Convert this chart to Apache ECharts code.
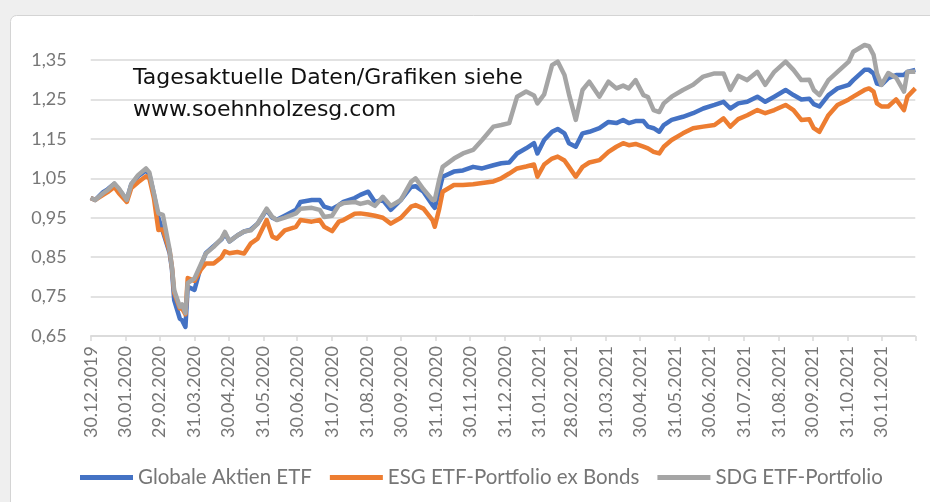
<!DOCTYPE html>
<html>
<head>
<meta charset="utf-8">
<script src="https://cdn.jsdelivr.net/npm/echarts@6/dist/echarts.min.js"></script>
<style>
html, body { margin: 0; padding: 0; background: #efefef; }
#main { width: 930px; height: 502px; }
</style>
</head>
<body>
<div id="main"></div>
<script>
var dates = ['2019-12-30','2020-01-03','2020-01-10','2020-01-14','2020-01-20','2020-01-24','2020-01-31','2020-02-04','2020-02-10','2020-02-17',
    '2020-02-20','2020-02-24','2020-02-28','2020-03-03','2020-03-09','2020-03-11','2020-03-13','2020-03-18','2020-03-20','2020-03-23',
    '2020-03-25','2020-03-31','2020-04-06','2020-04-10','2020-04-17','2020-04-24','2020-04-27','2020-05-01','2020-05-08','2020-05-14',
    '2020-05-20','2020-05-26','2020-06-03','2020-06-08','2020-06-12','2020-06-19','2020-06-29','2020-07-03','2020-07-13','2020-07-20',
    '2020-07-24','2020-07-31','2020-08-06','2020-08-10','2020-08-20','2020-08-25','2020-09-01','2020-09-07','2020-09-14','2020-09-21',
    '2020-09-30','2020-10-09','2020-10-13','2020-10-20','2020-10-28','2020-10-30','2020-11-03','2020-11-06','2020-11-16','2020-11-24',
    '2020-12-03','2020-12-11','2020-12-21','2020-12-28','2021-01-04','2021-01-11','2021-01-19','2021-01-26','2021-01-29','2021-02-04',
    '2021-02-11','2021-02-16','2021-02-22','2021-02-26','2021-03-04','2021-03-10','2021-03-16','2021-03-25','2021-04-02','2021-04-09',
    '2021-04-15','2021-04-20','2021-04-26','2021-05-03','2021-05-07','2021-05-12','2021-05-17','2021-05-21','2021-05-28','2021-06-07',
    '2021-06-16','2021-06-25','2021-07-05','2021-07-13','2021-07-19','2021-07-26','2021-08-03','2021-08-12','2021-08-19','2021-08-27',
    '2021-09-06','2021-09-13','2021-09-20','2021-09-27','2021-10-01','2021-10-06','2021-10-14','2021-10-22','2021-11-01','2021-11-05',
    '2021-11-15','2021-11-19','2021-11-23','2021-11-26','2021-11-30','2021-12-06','2021-12-13','2021-12-20','2021-12-23','2021-12-30'];

// Globale Aktien ETF
var globale = [1.000,0.995,1.015,1.022,1.036,1.022,0.995,1.035,1.055,1.070,
    1.060,1.010,0.950,0.915,0.860,0.820,0.741,0.694,0.690,0.673,
    0.775,0.767,0.830,0.860,0.878,0.895,0.910,0.890,0.905,0.915,
    0.920,0.935,0.970,0.950,0.945,0.955,0.970,0.990,0.995,0.995,
    0.978,0.972,0.982,0.990,1.000,1.008,1.016,0.990,0.995,0.970,
    0.995,1.028,1.030,1.016,0.982,0.975,1.020,1.054,1.067,1.070,
    1.079,1.075,1.083,1.088,1.090,1.113,1.126,1.139,1.113,1.147,
    1.168,1.175,1.164,1.139,1.130,1.164,1.168,1.177,1.193,1.190,
    1.198,1.190,1.195,1.195,1.181,1.177,1.168,1.185,1.198,1.206,
    1.215,1.227,1.236,1.244,1.227,1.240,1.244,1.257,1.244,1.257,
    1.274,1.261,1.250,1.252,1.238,1.232,1.261,1.278,1.287,1.299,
    1.325,1.325,1.316,1.290,1.287,1.304,1.312,1.312,1.320,1.325];

// ESG ETF-Portfolio ex Bonds
var esg = [1.000,0.995,1.008,1.015,1.028,1.012,0.990,1.025,1.040,1.055,
    1.050,1.000,0.919,0.920,0.865,0.825,0.760,0.720,0.720,0.705,
    0.797,0.790,0.820,0.834,0.834,0.850,0.865,0.860,0.863,0.859,
    0.885,0.897,0.944,0.902,0.897,0.918,0.927,0.944,0.940,0.944,
    0.927,0.916,0.940,0.944,0.960,0.961,0.958,0.955,0.950,0.935,
    0.950,0.978,0.982,0.973,0.944,0.927,0.973,1.016,1.033,1.033,
    1.035,1.038,1.042,1.050,1.062,1.075,1.080,1.085,1.054,1.085,
    1.100,1.105,1.095,1.079,1.054,1.079,1.090,1.096,1.117,1.130,
    1.139,1.134,1.137,1.130,1.126,1.117,1.113,1.130,1.147,1.164,
    1.177,1.181,1.185,1.202,1.181,1.200,1.210,1.223,1.215,1.223,
    1.236,1.223,1.198,1.200,1.177,1.168,1.210,1.236,1.250,1.257,
    1.274,1.278,1.270,1.240,1.232,1.232,1.250,1.223,1.257,1.278];

// SDG ETF-Portfolio
var sdg = [1.000,0.995,1.012,1.020,1.037,1.024,0.995,1.035,1.058,1.075,
    1.065,1.012,0.961,0.957,0.868,0.825,0.766,0.724,0.730,0.708,
    0.784,0.796,0.834,0.859,0.876,0.897,0.914,0.890,0.905,0.915,
    0.918,0.935,0.973,0.952,0.944,0.950,0.961,0.973,0.975,0.970,
    0.952,0.955,0.982,0.987,0.990,0.985,0.990,0.980,1.003,0.980,
    0.995,1.041,1.050,1.022,0.995,0.995,1.047,1.079,1.100,1.113,
    1.122,1.147,1.181,1.185,1.190,1.257,1.270,1.260,1.240,1.263,
    1.337,1.346,1.312,1.263,1.198,1.274,1.295,1.257,1.295,1.278,
    1.285,1.278,1.299,1.261,1.256,1.223,1.218,1.240,1.257,1.274,
    1.287,1.308,1.316,1.316,1.274,1.310,1.299,1.320,1.287,1.320,
    1.346,1.325,1.299,1.300,1.274,1.261,1.299,1.320,1.346,1.371,
    1.388,1.385,1.363,1.316,1.287,1.317,1.305,1.270,1.320,1.320];

var tickDates = ['2019-12-30','2020-01-30','2020-02-29','2020-03-31','2020-04-30','2020-05-31','2020-06-30','2020-07-31',
    '2020-08-31','2020-09-30','2020-10-31','2020-11-30','2020-12-31','2021-01-31','2021-02-28','2021-03-31',
    '2021-04-30','2021-05-31','2021-06-30','2021-07-31','2021-08-31','2021-09-30','2021-10-31','2021-11-30'];
var endDate = '2021-12-30';

// dates as day numbers (UTC), drawn on a plain value axis
function dayNo(s) {
    var p = s.split('-');
    return Date.UTC(+p[0], +p[1] - 1, +p[2]) / 86400000;
}
function pad(n) { return n < 10 ? '0' + n : '' + n; }
function fmtDate(v) {
    var d = new Date(Math.round(v) * 86400000);
    return pad(d.getUTCDate()) + '.' + pad(d.getUTCMonth() + 1) + '.' + d.getUTCFullYear();
}
function pairs(vals) {
    return dates.map(function (d, i) { return [dayNo(d), vals[i]]; });
}

var labelValues = tickDates.map(dayNo);
var tickValues = labelValues.concat([dayNo(endDate)]);
var grey = '#767676';

var myChart = echarts.init(document.getElementById('main'));
var option = {
    backgroundColor: '#efefef',
    animation: false,
    graphic: [{
        type: 'rect',
        shape: { x: 10.5, y: 15.5, width: 940, height: 500, r: [6, 0, 0, 0] },
        style: { fill: '#fff', stroke: '#d4d4d4', lineWidth: 1 },
        z: -10
    }, {
        type: 'text',
        x: 133, y: 78,
        style: {
            text: 'Tagesaktuelle Daten/Grafiken siehe',
            font: '22px "DejaVu Sans"',
            fill: '#111',
            verticalAlign: 'middle'
        },
        z: 10
    }, {
        type: 'text',
        x: 133, y: 110,
        style: {
            text: 'www.soehnholzesg.com',
            font: '22px "DejaVu Sans"',
            fill: '#111',
            verticalAlign: 'middle'
        },
        z: 10
    }],
    grid: { left: 90.7, right: 14.7, top: 60, bottom: 166, containLabel: false },
    legend: {
        left: 75,
        top: 462,
        icon: 'rect',
        itemWidth: 53,
        itemHeight: 5,
        itemGap: 18,
        textStyle: { fontFamily: 'Lato', fontSize: 20.5, color: grey },
        data: ['Globale Aktien ETF', 'ESG ETF-Portfolio ex Bonds', 'SDG ETF-Portfolio']
    },
    xAxis: {
        type: 'value',
        min: dayNo(dates[0]),
        max: dayNo(endDate),
        axisLine: { lineStyle: { color: '#d9d9d9', width: 1.5 } },
        axisTick: { show: true, length: 5, customValues: tickValues, lineStyle: { color: '#d9d9d9', width: 1.5 } },
        axisLabel: {
            customValues: labelValues,
            rotate: 90,
            margin: 10,
            fontFamily: 'Lato',
            fontSize: 18,
            color: grey,
            formatter: function (v) { return fmtDate(v); }
        },
        splitLine: { show: false }
    },
    yAxis: {
        type: 'value',
        min: 0.65,
        max: 1.35,
        interval: 0.1,
        axisLine: { show: false },
        axisTick: { show: false },
        axisLabel: {
            margin: 24,
            fontFamily: 'Lato',
            fontSize: 18,
            color: grey,
            formatter: function (v) { return v.toFixed(2).replace('.', ','); }
        },
        splitLine: { lineStyle: { color: '#d9d9d9', width: 1.5 } }
    },
    series: [{
        name: 'Globale Aktien ETF',
        type: 'line',
        data: pairs(globale),
        showSymbol: false,
        clip: false,
        color: '#4472C4',
        lineStyle: { width: 4.5, join: 'round' }
    }, {
        name: 'ESG ETF-Portfolio ex Bonds',
        type: 'line',
        data: pairs(esg),
        showSymbol: false,
        clip: false,
        color: '#ED7D31',
        lineStyle: { width: 4.5, join: 'round' }
    }, {
        name: 'SDG ETF-Portfolio',
        type: 'line',
        data: pairs(sdg),
        showSymbol: false,
        clip: false,
        color: '#A5A5A5',
        lineStyle: { width: 4.5, join: 'round' }
    }]
};
myChart.setOption(option);
</script>
</body>
</html>
